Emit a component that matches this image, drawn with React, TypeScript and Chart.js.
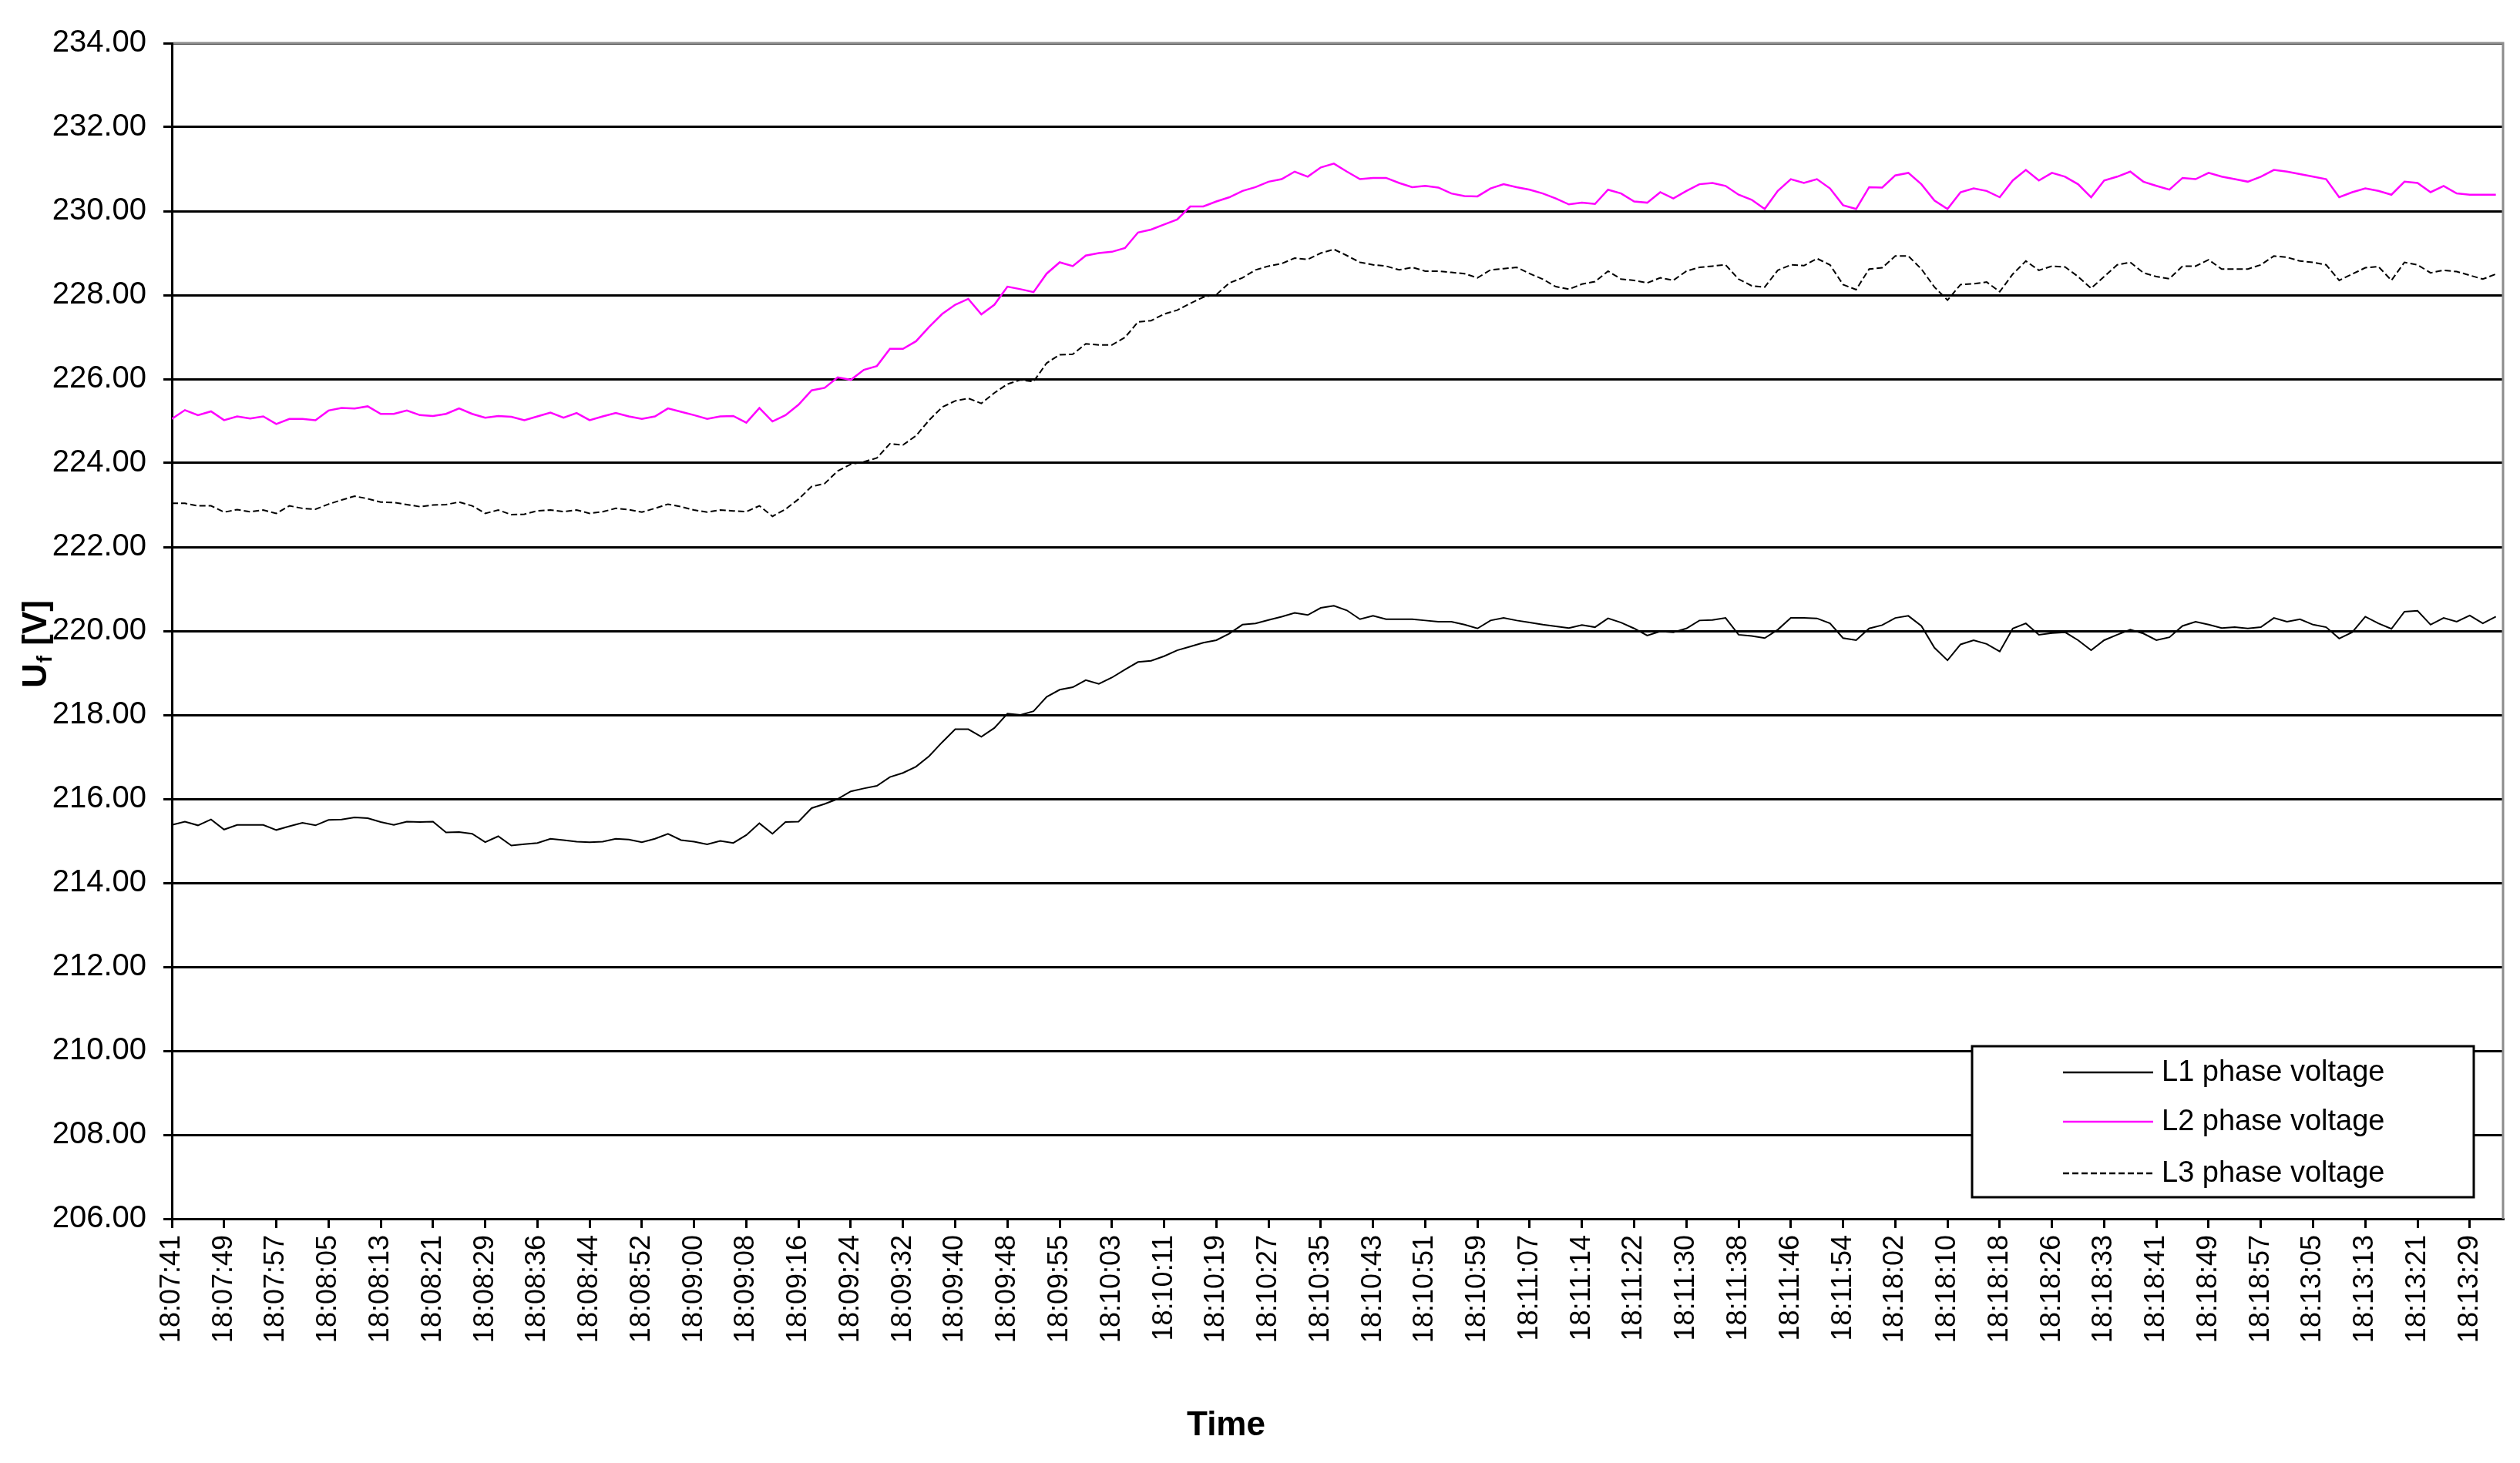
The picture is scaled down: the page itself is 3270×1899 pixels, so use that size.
import React, { useEffect, useRef } from 'react';
import { Chart, registerables } from 'chart.js';

Chart.register(...registerables);

const timeLabels = [
  '18:07:41', '18:07:49', '18:07:57', '18:08:05', '18:08:13', '18:08:21', '18:08:29', '18:08:36', '18:08:44',
  '18:08:52', '18:09:00', '18:09:08', '18:09:16', '18:09:24', '18:09:32', '18:09:40', '18:09:48', '18:09:55',
  '18:10:03', '18:10:11', '18:10:19', '18:10:27', '18:10:35', '18:10:43', '18:10:51', '18:10:59', '18:11:07',
  '18:11:14', '18:11:22', '18:11:30', '18:11:38', '18:11:46', '18:11:54', '18:18:02', '18:18:10', '18:18:18',
  '18:18:26', '18:18:33', '18:18:41', '18:18:49', '18:18:57', '18:13:05', '18:13:13', '18:13:21', '18:13:29',
];

const l1Values = [
  215.38, 215.46, 215.37, 215.51, 215.27, 215.38, 215.38, 215.38, 215.26, 215.35,
  215.43, 215.37, 215.50, 215.51, 215.56, 215.54, 215.45, 215.38, 215.46, 215.45,
  215.46, 215.20, 215.21, 215.17, 214.97, 215.11, 214.89, 214.92, 214.95, 215.05,
  215.02, 214.98, 214.97, 214.98, 215.05, 215.03, 214.97, 215.05, 215.17, 215.02,
  214.98, 214.92, 215.00, 214.95, 215.14, 215.42, 215.17, 215.45, 215.46, 215.78,
  215.88, 216.00, 216.18, 216.25, 216.31, 216.52, 216.62, 216.77, 217.02, 217.35,
  217.66, 217.66, 217.48, 217.69, 218.03, 218.00, 218.09, 218.43, 218.60, 218.66,
  218.83, 218.74, 218.89, 219.08, 219.26, 219.29, 219.40, 219.54, 219.63, 219.72,
  219.78, 219.94, 220.15, 220.18, 220.26, 220.34, 220.43, 220.38, 220.55, 220.60,
  220.49, 220.28, 220.36, 220.28, 220.28, 220.28, 220.25, 220.22, 220.22, 220.15,
  220.06, 220.25, 220.31, 220.25, 220.20, 220.15, 220.11, 220.07, 220.14, 220.09,
  220.30, 220.20, 220.06, 219.89, 219.99, 219.97, 220.06, 220.25, 220.26, 220.31,
  219.91, 219.88, 219.83, 220.03, 220.31, 220.31, 220.30, 220.18, 219.83, 219.78,
  220.06, 220.14, 220.31, 220.36, 220.12, 219.60, 219.30, 219.68, 219.78, 219.69,
  219.51, 220.06, 220.18, 219.91, 219.95, 219.97, 219.78, 219.54, 219.78, 219.91,
  220.03, 219.94, 219.78, 219.85, 220.12, 220.22, 220.15, 220.07, 220.09, 220.06,
  220.09, 220.31, 220.22, 220.28, 220.15, 220.09, 219.82, 219.97, 220.34, 220.18,
  220.05, 220.46, 220.48, 220.15, 220.31, 220.22, 220.37, 220.18, 220.34,
];

const l2Values = [
  225.05, 225.26, 225.14, 225.23, 225.02, 225.11, 225.06, 225.11, 224.93, 225.05,
  225.05, 225.02, 225.25, 225.31, 225.30, 225.35, 225.17, 225.17, 225.25, 225.14,
  225.12, 225.17, 225.30, 225.17, 225.08, 225.12, 225.10, 225.02, 225.11, 225.20,
  225.08, 225.19, 225.02, 225.11, 225.19, 225.11, 225.05, 225.11, 225.30, 225.22,
  225.14, 225.05, 225.11, 225.12, 224.96, 225.31, 224.99, 225.14, 225.39, 225.73,
  225.79, 226.04, 225.98, 226.22, 226.31, 226.72, 226.72, 226.90, 227.24, 227.55,
  227.77, 227.91, 227.54, 227.77, 228.20, 228.14, 228.07, 228.51, 228.78, 228.69,
  228.94, 229.00, 229.03, 229.12, 229.49, 229.56, 229.68, 229.80, 230.11, 230.11,
  230.23, 230.33, 230.48, 230.57, 230.70, 230.76, 230.94, 230.82, 231.04, 231.13,
  230.94, 230.76, 230.79, 230.79, 230.67, 230.57, 230.60, 230.56, 230.42, 230.36,
  230.35, 230.54, 230.64, 230.57, 230.51, 230.42, 230.30, 230.16, 230.20, 230.17,
  230.51, 230.42, 230.23, 230.20, 230.45, 230.30, 230.48, 230.64, 230.67, 230.60,
  230.39, 230.27, 230.05, 230.48, 230.76, 230.67, 230.76, 230.54, 230.14, 230.05,
  230.57, 230.56, 230.85, 230.91, 230.64, 230.25, 230.05, 230.45, 230.54, 230.48,
  230.33, 230.73, 230.98, 230.73, 230.91, 230.82, 230.64, 230.33, 230.73, 230.82,
  230.94, 230.70, 230.60, 230.51, 230.79, 230.76, 230.91, 230.82, 230.76, 230.70,
  230.82, 230.98, 230.94, 230.88, 230.82, 230.76, 230.33, 230.45, 230.54, 230.48,
  230.39, 230.70, 230.67, 230.45, 230.60, 230.42, 230.39, 230.39, 230.39,
];

const l3Values = [
  223.04, 223.04, 222.98, 222.98, 222.83, 222.89, 222.84, 222.88, 222.80, 222.98,
  222.92, 222.90, 223.02, 223.12, 223.21, 223.15, 223.07, 223.06, 223.01, 222.96,
  223.00, 223.01, 223.07, 222.98, 222.80, 222.88, 222.77, 222.78, 222.86, 222.88,
  222.84, 222.88, 222.80, 222.84, 222.92, 222.89, 222.83, 222.92, 223.02, 222.96,
  222.88, 222.83, 222.88, 222.86, 222.84, 222.98, 222.73, 222.90, 223.14, 223.44,
  223.51, 223.81, 223.97, 224.03, 224.12, 224.46, 224.43, 224.65, 225.02, 225.33,
  225.48, 225.54, 225.42, 225.67, 225.88, 225.98, 225.94, 226.38, 226.58, 226.59,
  226.84, 226.81, 226.81, 226.99, 227.36, 227.39, 227.55, 227.64, 227.80, 227.95,
  228.01, 228.29, 228.41, 228.60, 228.69, 228.75, 228.88, 228.85, 229.00, 229.09,
  228.94, 228.78, 228.72, 228.69, 228.60, 228.66, 228.57, 228.57, 228.54, 228.51,
  228.41, 228.60, 228.63, 228.66, 228.51, 228.38, 228.20, 228.14, 228.26, 228.32,
  228.57, 228.38, 228.35, 228.29, 228.41, 228.35, 228.57, 228.66, 228.69, 228.72,
  228.38, 228.22, 228.19, 228.59, 228.72, 228.70, 228.87, 228.72, 228.25, 228.13,
  228.62, 228.65, 228.93, 228.93, 228.62, 228.19, 227.88, 228.25, 228.27, 228.31,
  228.08, 228.50, 228.81, 228.59, 228.69, 228.67, 228.44, 228.16, 228.44, 228.72,
  228.78, 228.53, 228.44, 228.39, 228.69, 228.69, 228.84, 228.62, 228.62, 228.62,
  228.72, 228.93, 228.90, 228.81, 228.78, 228.72, 228.35, 228.50, 228.65, 228.68,
  228.35, 228.78, 228.72, 228.53, 228.59, 228.56, 228.47, 228.38, 228.50,
];

const seriesNames = ['L1 phase voltage', 'L2 phase voltage', 'L3 phase voltage'];
const yMin = 206;
const yMax = 234;
const yStep = 2;
const pointsPerLabel = 4;

const FONT = '"Liberation Sans", Arial, Helvetica, sans-serif';

export default function App() {
  const canvasRef = useRef<HTMLCanvasElement | null>(null);

  useEffect(() => {
    const canvas = canvasRef.current;
    if (!canvas) return;
    const toXY = (arr: number[]) => arr.map((y, i) => ({ x: i, y }));
    const lastIndex = l1Values.length - 1;

    const overlay = {
      id: 'overlay',
      beforeDatasetsDraw(chart: any) {
        const { ctx, chartArea: a } = chart;
        ctx.save();
        ctx.strokeStyle = '#8c8c8c';
        ctx.lineWidth = 3;
        ctx.beginPath();
        ctx.moveTo(a.left + 2, a.top);
        ctx.lineTo(a.right, a.top);
        ctx.lineTo(a.right, a.bottom);
        ctx.stroke();
        ctx.restore();
      },
      afterDraw(chart: any) {
        const { ctx, chartArea: a } = chart;
        ctx.save();
        // legend box
        const bl = a.right - 689;
        const br = a.right - 38;
        const bt = a.bottom - 224;
        const bb = a.bottom - 28;
        ctx.fillStyle = '#fff';
        ctx.fillRect(bl, bt, br - bl, bb - bt);
        ctx.strokeStyle = '#000';
        ctx.lineWidth = 3;
        ctx.strokeRect(bl, bt, br - bl, bb - bt);
        const rows = [34, 98, 165];
        chart.data.datasets.forEach((ds: any, i: number) => {
          const y = bt + rows[i];
          ctx.save();
          ctx.strokeStyle = ds.borderColor;
          ctx.lineWidth = 2.5;
          ctx.setLineDash(ds.borderDash || []);
          ctx.beginPath();
          ctx.moveTo(bl + 118, y);
          ctx.lineTo(bl + 235, y);
          ctx.stroke();
          ctx.restore();
          ctx.fillStyle = '#000';
          ctx.font = `38px ${FONT}`;
          ctx.textAlign = 'left';
          ctx.textBaseline = 'middle';
          ctx.fillText(ds.label, bl + 246, y + 1);
        });
        // x title
        ctx.fillStyle = '#000';
        ctx.font = `bold 44px ${FONT}`;
        ctx.textAlign = 'center';
        ctx.textBaseline = 'alphabetic';
        ctx.fillText('Time', a.left + 1368, a.bottom + 281);
        // y title U_f [V]
        ctx.translate(a.left - 163, a.top + 837);
        ctx.rotate(-Math.PI / 2);
        ctx.textAlign = 'left';
        ctx.font = `bold 44px ${FONT}`;
        ctx.fillText('U', 0, 0);
        const wU = ctx.measureText('U').width;
        ctx.font = `bold 28px ${FONT}`;
        ctx.fillText('f', wU + 1, 7);
        const wf = ctx.measureText('f').width;
        ctx.font = `bold 44px ${FONT}`;
        ctx.fillText(' [V]', wU + wf + 2, 0);
        ctx.restore();
      },
    };

    const chart = new Chart(canvas, {
      type: 'line',
      data: {
        datasets: [
          {
            label: seriesNames[0],
            data: toXY(l1Values),
            borderColor: '#000000',
            borderWidth: 2,
            pointRadius: 0,
            tension: 0,
          },
          {
            label: seriesNames[1],
            data: toXY(l2Values),
            borderColor: '#ff00ff',
            borderWidth: 2.5,
            pointRadius: 0,
            tension: 0,
          },
          {
            label: seriesNames[2],
            data: toXY(l3Values),
            borderColor: '#000000',
            borderWidth: 2,
            borderDash: [8, 4],
            pointRadius: 0,
            tension: 0,
          },
        ],
      },
      options: {
        animation: false,
        responsive: false,
        maintainAspectRatio: false,
        layout: { padding: { left: 0, top: 56, right: 22, bottom: 0 } },
        plugins: {
          legend: { display: false },
          tooltip: { enabled: false },
          title: { display: false },
        },
        scales: {
          x: {
            type: 'linear',
            min: 0,
            max: lastIndex + 0.55,
            afterBuildTicks: (s: any) => {
              s.ticks = timeLabels.map((_, k) => ({ value: k * pointsPerLabel }));
            },
            afterFit: (s: any) => {
              s.height = 317;
            },
            ticks: {
              autoSkip: false,
              maxRotation: 90,
              minRotation: 90,
              padding: 9,
              color: '#000',
              font: { family: FONT, size: 36 },
              callback: (v: any) => timeLabels[Math.round(Number(v) / pointsPerLabel)] ?? '',
            },
            grid: {
              drawOnChartArea: false,
              drawTicks: true,
              tickLength: 12,
              color: '#000',
              lineWidth: 3,
            },
            border: { display: true, color: '#000', width: 3 },
          },
          y: {
            min: yMin,
            max: yMax,
            afterFit: (s: any) => {
              s.width = 223;
            },
            ticks: {
              stepSize: yStep,
              padding: 22,
              color: '#000',
              font: { family: FONT, size: 40 },
              callback: (v: any) => Number(v).toFixed(2),
            },
            grid: {
              color: '#000',
              lineWidth: 3,
              tickLength: 11,
              drawTicks: true,
            },
            border: { display: true, color: '#000', width: 3 },
          },
        },
      },
      plugins: [overlay],
    } as any);

    return () => {
      chart.destroy();
    };
  }, []);

  return (
    <div style={{ position: 'fixed', left: 0, top: 0, width: 3270, height: 1899, background: '#fff' }}>
      <canvas ref={canvasRef} width={3270} height={1899} style={{ display: 'block', width: 3270, height: 1899 }} />
    </div>
  );
}
